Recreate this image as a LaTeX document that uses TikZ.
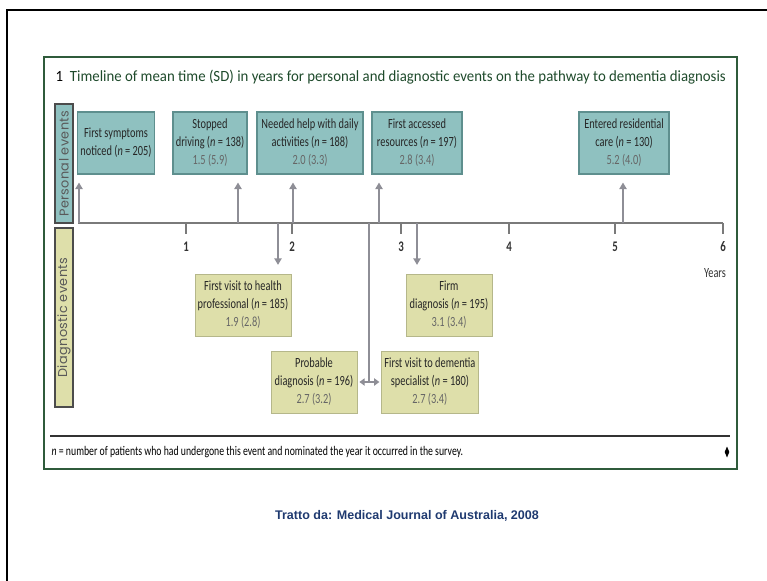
\documentclass[tikz,border=0pt]{standalone}
\usepackage{fontspec}
\setmainfont{Carlito}
\newfontfamily\narrowfont[FakeStretch=0.74]{Carlito}
\newfontfamily\titlefont[FakeStretch=0.95]{Carlito}
\newfontfamily\sidefont[LetterSpace=3]{Poppins}
\newfontfamily\creditfont{Liberation Sans}
\usetikzlibrary{positioning,arrows.meta,shadows}

\definecolor{persfill}{HTML}{8FC1C0}
\definecolor{persline}{HTML}{5E8F8E}
\definecolor{diagfill}{HTML}{DEDFAA}
\definecolor{diagline}{HTML}{B5B78A}
\definecolor{framegreen}{HTML}{2F5B3B}
\definecolor{titlegreen}{HTML}{1E4A2B}
\definecolor{arrgray}{HTML}{8E8E96}
\definecolor{axisgray}{HTML}{7A7A7A}
\definecolor{creditblue}{HTML}{1F3A70}

\begin{document}
\begin{tikzpicture}[
  x=0.75pt, y=-0.75pt,
  font=\narrowfont\fontsize{10.5}{13.5}\selectfont,
  box/.style={align=center, inner sep=2pt, minimum height=46.5pt, text=black!85,
              drop shadow={shadow xshift=0.8pt, shadow yshift=-0.8pt, opacity=0.3}},
  pers/.style={box, fill=persfill, draw=persline, line width=0.8pt},
  diag/.style={box, fill=diagfill, draw=diagline, line width=0.6pt},
  side/.style={draw=black!70, line width=0.8pt, rotate=90, inner sep=0pt,
               minimum height=13.5pt, text=black!65,
               font=\sidefont\fontsize{9.6}{9.6}\selectfont},
  arr/.style={-{Triangle[length=5pt, width=5.5pt]}, draw=arrgray, line width=1.8pt},
  both/.style={{Triangle[length=4pt, width=5.5pt]}-{Triangle[length=4pt, width=5.5pt]},
               draw=arrgray, line width=2pt, shorten <=1.5pt, shorten >=1.5pt},
  yearlab/.style={font=\narrowfont\bfseries\fontsize{11}{11}\selectfont, text=black!80}]

\useasboundingbox (0,0) rectangle (767,581);
\draw[line width=2.2pt] (767,10) -- (7,10) -- (7,581);
\draw[framegreen, line width=1.1pt] (44,57) rectangle (737,469);

\node[anchor=west, text=titlegreen, font=\titlefont\fontsize{11.7}{13}\selectfont] (title) at (51,77)
  {\textcolor{black}{1}\ \ Timeline of mean time (SD) in years for personal and diagnostic events on the pathway to dementia diagnosis};

\node[side, fill=persfill, minimum width=89.25pt] (persside) at (64,163.5) {Personal events};
\node[side, fill=diagfill, minimum width=134.25pt] (diagside) at (64,317.5) {Diagnostic events};

\node[pers, minimum width=57pt]   (symp)  at (116,143) {First symptoms\\noticed (\textit{n}\,=\,205)};
\node[pers, minimum width=55.5pt] (drive) at (210,143) {Stopped\\driving (\textit{n}\,=\,138)\\{\color{black!60}1.5 (5.9)}};
\node[pers, minimum width=79.5pt] (help)  at (310,143) {Needed help with daily\\activities (\textit{n}\,=\,188)\\{\color{black!60}2.0 (3.3)}};
\node[pers, minimum width=67.5pt] (res)   at (417,143) {First accessed\\resources (\textit{n}\,=\,197)\\{\color{black!60}2.8 (3.4)}};
\node[pers, minimum width=67.5pt] (care)  at (624,143) {Entered residential\\care (\textit{n}\,=\,130)\\{\color{black!60}5.2 (4.0)}};

\node[diag, minimum width=72pt]   (health) at (243,305) {First visit to health\\professional (\textit{n}\,=\,185)\\{\color{black!60}1.9 (2.8)}};
\node[diag, minimum width=64.5pt] (firm)   at (449,305) {Firm\\diagnosis (\textit{n}\,=\,195)\\{\color{black!60}3.1 (3.4)}};
\node[diag, minimum width=64.5pt] (prob)   at (314,382) {Probable\\diagnosis (\textit{n}\,=\,196)\\{\color{black!60}2.7 (3.2)}};
\node[diag, minimum width=72pt, right=18pt of prob] (spec) {First visit to dementia\\specialist (\textit{n}\,=\,180)\\{\color{black!60}2.7 (3.4)}};

\coordinate (t0) at (78,223);
\coordinate (t6) at (723,223);
\draw[axisgray, line width=1.3pt] (t0) -- (t6);
\foreach \x/\yr in {186/1, 292/2, 401/3, 509/4, 615/5, 723/6} {
  \draw[axisgray, line width=0.9pt] (\x,223) -- (\x,234);
  \node[yearlab] (yr\yr) at (\x,247) {\yr};
}
\node[yearlab, font=\narrowfont\fontsize{10.5}{10.5}\selectfont] (years) at (715,273) {Years};

\foreach \e/\x in {symp/79, drive/238, help/293, res/379, care/623} {
  \coordinate (at-\e) at (\x,223);
  \draw[arr, shorten >=6pt] (at-\e) -- (at-\e |- \e.south);
}
\foreach \e/\x in {health/278, firm/417} {
  \coordinate (at-\e) at (\x,223);
  \draw[arr, shorten >=6.5pt] (at-\e) -- (at-\e |- \e.north);
}
\coordinate (at-spec) at (369,223);
\draw[arrgray, line width=1.1pt] (at-spec) -- (at-spec |- prob.east);
\draw[both] (prob.east) -- (spec.west);

\draw[black!80, line width=1.6pt] (50,436) -- (730,436);
\node[anchor=west, font=\narrowfont\fontsize{9.9}{11}\selectfont] (note) at (47,452)
  {\textit{n}\,=\,number of patients who had undergone this event and nominated the year it occurred in the survey.};
\fill (727,446.5) -- (729.3,452) -- (727,457.5) -- (724.7,452) -- cycle;

\node[text=creditblue, font=\creditfont\bfseries\fontsize{9.4}{11}\selectfont] (credit) at (407,516)
  {Tratto da: Medical Journal of Australia, 2008};

\end{tikzpicture}
\end{document}
